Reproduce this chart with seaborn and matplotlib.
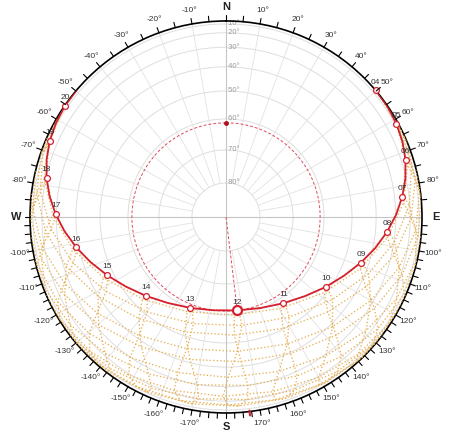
import numpy as np
import matplotlib
matplotlib.use('Agg')
import matplotlib.pyplot as plt
import seaborn as sns

sns.set_theme(style='white')
plt.rcParams['font.family'] = ['Liberation Sans', 'DejaVu Sans']

# ---- data: sun positions (azimuth deg from N clockwise, altitude deg) ----
HOURS = list(range(4, 21))
MONTHS = ['jan', 'feb', 'mar', 'apr', 'may', 'jun', 'jul', 'aug', 'sep', 'oct', 'nov', 'dec']
FIRST_HOUR = [9, 9, 8, 6, 5, 5, 5, 5, 6, 7, 8, 9]

jan_az = [135.9, 148.6, 162.1, 176.2, 190.4, 204.3, 217.4, 229.7]
jan_alt = [3.6, 9.3, 13.1, 14.9, 14.3, 11.6, 6.8, 0.5]
feb_az = [131.0, 144.2, 158.3, 173.3, 188.6, 203.5, 217.5, 230.5]
feb_alt = [7.5, 13.7, 18.2, 20.4, 20.3, 17.7, 13.0, 6.6]
mar_az = [113.5, 126.3, 140.4, 155.9, 172.6, 189.7, 206.3, 221.6, 235.4, 248.1]
mar_alt = [7.8, 15.8, 22.5, 27.3, 29.9, 29.7, 26.8, 21.7, 14.8, 6.6]
apr_az = [84.0, 95.8, 108.1, 121.6, 137.0, 154.6, 174.1, 194.2, 213.1, 229.7, 244.2, 257.1, 269.2]
apr_alt = [0.7, 9.9, 18.9, 27.3, 34.4, 39.6, 42.1, 41.4, 37.7, 31.6, 23.9, 15.2, 6.0]
may_az = [67.2, 78.8, 90.4, 102.7, 116.6, 133.0, 152.9, 176.0, 199.6, 220.7, 238.2, 252.8, 265.6, 277.3, 288.9]
may_alt = [1.3, 10.1, 19.3, 28.4, 37.1, 44.7, 50.3, 52.8, 51.5, 46.9, 39.8, 31.4, 22.4, 13.2, 4.2]
jun_az = [62.9, 74.1, 85.4, 97.3, 111.0, 127.6, 148.9, 175.1, 202.3, 225.5, 243.6, 258.1, 270.6, 282.0, 293.1, 304.5]
jun_alt = [7.0, 15.6, 24.6, 33.9, 42.8, 50.8, 57.0, 59.9, 58.5, 53.3, 45.8, 37.0, 27.9, 18.7, 9.9, 1.8]
jul_az = [61.1, 72.2, 83.3, 95.1, 108.4, 124.7, 145.7, 172.1, 200.3, 224.4, 243.1, 257.8, 270.3, 281.7, 292.8, 304.0]
jul_alt = [7.2, 15.6, 24.6, 33.9, 42.9, 51.1, 57.7, 61.0, 60.0, 55.0, 47.6, 38.9, 29.7, 20.5, 11.7, 3.6]
aug_az = [63.4, 74.8, 86.3, 98.3, 111.7, 127.8, 147.7, 171.7, 197.0, 219.7, 238.2, 253.2, 266.0, 277.7, 289.1]
aug_alt = [2.7, 11.3, 20.4, 29.6, 38.5, 46.6, 52.8, 56.0, 55.3, 50.9, 43.9, 35.5, 26.5, 17.2, 8.3]
sep_az = [82.1, 93.9, 106.2, 120.0, 135.8, 154.3, 175.2, 196.5, 216.2, 233.3, 247.8, 260.7, 272.7]
sep_alt = [4.7, 13.9, 23.0, 31.5, 38.7, 44.0, 46.5, 45.5, 41.4, 34.9, 26.9, 18.0, 8.8]
oct_az = [103.1, 115.6, 129.1, 144.3, 161.1, 179.2, 197.3, 214.3, 229.6, 243.3, 255.8]
oct_alt = [6.5, 15.2, 23.0, 29.3, 33.6, 35.1, 33.8, 29.8, 23.6, 15.9, 7.3]
nov_az = [123.1, 136.0, 150.0, 165.1, 180.9, 196.6, 211.6, 225.5, 238.3]
nov_alt = [6.5, 13.6, 19.1, 22.7, 23.8, 22.4, 18.6, 12.9, 5.6]
dec_az = [138.1, 151.1, 165.0, 179.4, 193.9, 207.8, 220.9]
dec_alt = [6.3, 11.6, 15.1, 16.3, 15.2, 12.0, 6.7]

RISE_AZ = [129.5, 118.9, 102.9, 83.1, 65.4, 52.6, 50.3, 59.5, 76.0, 94.7, 113.5, 126.9]
SET_AZ = [230.5, 241.1, 257.1, 276.9, 294.6, 307.4, 309.7, 300.5, 284.0, 265.3, 246.5, 233.1]

# highlighted day (red path), half-hourly
RED_T = [3.5, 4, 4.5, 5, 5.5, 6, 6.5, 7, 7.5, 8, 8.5, 9, 9.5, 10, 10.5, 11, 11.5, 12, 12.5,
         13, 13.5, 14, 14.5, 15, 15.5, 16, 16.5, 17, 17.5, 18, 18.5, 19, 19.5, 20, 20.5]
RED_AZ = [43.8, 49.8, 55.6, 61.3, 66.9, 72.4, 77.9, 83.5, 89.3, 95.3, 101.7, 108.7, 116.4,
          125.1, 135.0, 146.4, 159.2, 173.1, 187.5, 201.4, 214.1, 225.4, 235.2, 243.9, 251.6,
          258.5, 264.9, 271.0, 276.7, 282.3, 287.8, 293.3, 298.9, 304.6, 310.4]
RED_ALT = [-3.3, 0.1, 3.7, 7.7, 11.8, 16.1, 20.6, 25.2, 29.8, 34.4, 38.9, 43.4, 47.7, 51.6,
           55.2, 58.1, 60.2, 61.3, 61.3, 60.1, 58.0, 55.0, 51.5, 47.5, 43.2, 38.8, 34.2, 29.6,
           25.0, 20.4, 16.0, 11.7, 7.5, 3.6, -0.1]
RED_RISE_AZ, RED_SET_AZ = 49.7, 310.3
NOW_T = 12

ALT_RINGS = [10, 20, 30, 40, 50, 60, 70, 80]

# ---- figure ----
rect = [0.0667, 0.0528, 0.8711, 0.8991]
fig = plt.figure(figsize=(4.5, 4.36), dpi=100)
ax = fig.add_axes(rect, projection='polar')
ax.set_theta_zero_location('N')
ax.set_theta_direction(-1)
ax.set_rscale('function', functions=(lambda a: 1 - np.cos(np.radians(a)),
                                     lambda v: np.degrees(np.arccos(np.clip(1 - v, -1, 1)))))
ax.set_rlim(90, 0)
ax.grid(False)
ax.set_yticks([])

full = np.linspace(0, 2*np.pi, 361)
for a in ALT_RINGS:
    ax.plot(full, [a]*len(full), color='#dedede', lw=0.7, zorder=1)
for az in range(0, 360, 10):
    if az % 90 == 0:
        continue
    ax.plot([np.radians(az)]*2, [80, 0], color='#e2e2e2', lw=0.6, zorder=1)
for az in (0, 90):
    ax.plot([np.radians(az)]*2, [0, 90], color='#c6c6c6', lw=0.8, zorder=1)
    ax.plot([np.radians(az+180)]*2, [0, 90], color='#c6c6c6', lw=0.8, zorder=1)
for a in ALT_RINGS:
    ax.text(0, a, f' {a}°', fontsize=5.5, color='#9a9a9a', ha='left', va='center', zorder=2)

orange = '#e8b055'
glb = globals()
az_rows = [glb[m + '_az'] for m in MONTHS]
alt_rows = [glb[m + '_alt'] for m in MONTHS]
for i in range(12):
    th = np.radians([RISE_AZ[i]] + az_rows[i] + [SET_AZ[i]])
    rr = [0] + alt_rows[i] + [0]
    ax.plot(th, rr, ls=':', color=orange, lw=0.95, zorder=3)
for h in HOURS:
    th, rr = [], []
    for i in list(range(12)) + [0]:
        k = h - FIRST_HOUR[i]
        if 0 <= k < len(az_rows[i]):
            th.append(np.radians(az_rows[i][k])); rr.append(alt_rows[i][k])
        else:
            th.append(np.nan); rr.append(np.nan)
    ax.plot(th, rr, ls=':', color=orange, lw=0.95, zorder=3)

red = '#d42030'
up = [(z, a) for z, a in zip(RED_AZ, RED_ALT) if a > 0]
rth = np.radians([RED_RISE_AZ] + [z for z, a in up] + [RED_SET_AZ])
rrr = [0] + [a for z, a in up] + [0]
ax.plot(rth, rrr, color=red, lw=1.3, zorder=4)
for t, z, a in zip(RED_T, RED_AZ, RED_ALT):
    if t != int(t) or a < 0:
        continue
    big = t == NOW_T
    ax.plot(np.radians(z), a, marker='o', ms=6.5 if big else 4.2, mfc='white', mec=red,
            mew=1.6 if big else 0.9, zorder=6, clip_on=False)
    ax.annotate(f'{int(t):02d}', (np.radians(z), a), xytext=(0, 6), textcoords='offset points',
                ha='center', va='center', fontsize=6, color='#333333', zorder=7)
    if big:
        t12, a12 = np.radians(z), a
ax.plot(full, [a12]*len(full), color='#e04a5a', lw=0.7, ls=(0, (3, 2)), zorder=3)
ax.plot([0], [a12], marker='o', ms=2.5, color='#b01020', zorder=5)
ax.plot([t12, t12], [90, a12], color='#e04a5a', lw=0.7, ls=(0, (3, 2)), zorder=3)

ax.spines['polar'].set_color('black')
ax.spines['polar'].set_linewidth(1.2)
maj = np.arange(0, 360, 10)
labels = []
for a in maj:
    dd = a if a <= 180 else a - 360
    labels.append({0: 'N', 90: 'E', 180: 'S', -90: 'W'}.get(dd, f'{dd}°'))
ax.set_xticks(np.radians(maj))
ax.set_xticklabels(labels)
ax.tick_params(axis='x', which='major', length=0, labelsize=6, pad=3, labelcolor='#333333')
for t in ax.get_xticklabels():
    if t.get_text() in ('N', 'E', 'S', 'W'):
        t.set_fontweight('bold'); t.set_fontsize(8); t.set_color('#222222')

ax2 = fig.add_axes(rect, projection='polar', frameon=False)
ax2.set_theta_zero_location('N')
ax2.set_theta_direction(-1)
ax2.set_rlim(0, 1)
ax2.set_axis_off()
ticks = list(np.arange(270, 450, 5.0)) + list(np.arange(92.5, 270, 2.5))
for tk in ticks:
    ax2.plot([np.radians(tk)]*2, [1.0, 1.028], color='black', lw=0.8, clip_on=False)
ax2.plot([t12, t12], [0.995, 1.02], color=red, lw=1.5, clip_on=False)

fig.savefig('out.png', dpi=100, facecolor='white')
